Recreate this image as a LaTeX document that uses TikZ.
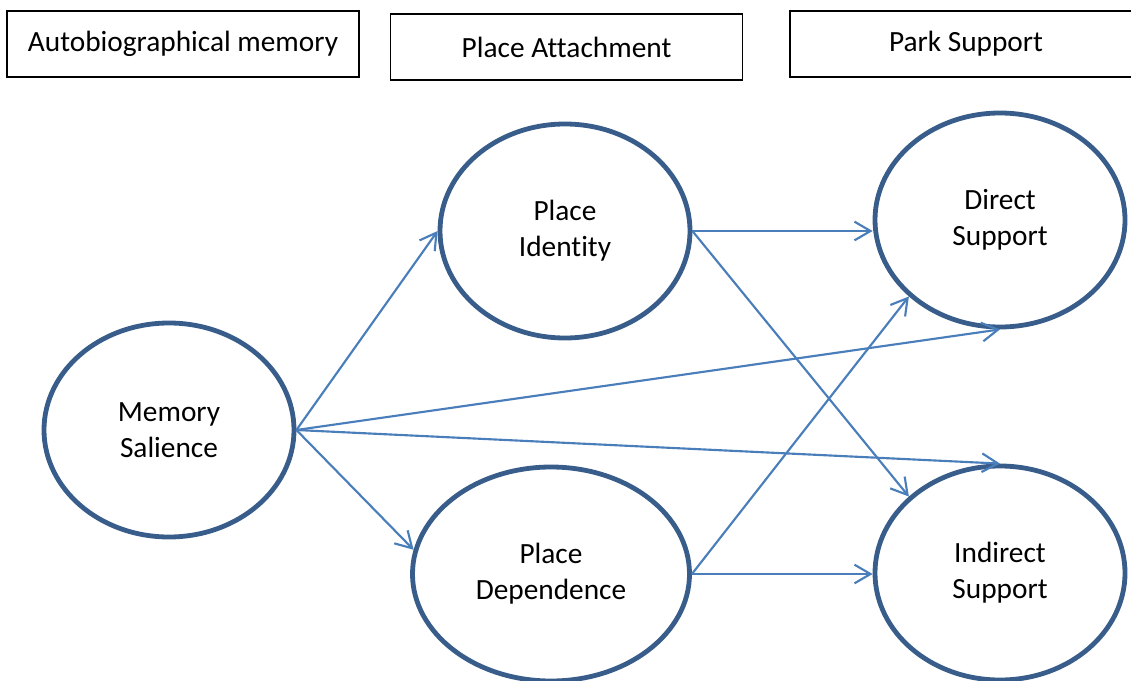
\documentclass[tikz,border=0pt]{standalone}
\usepackage{fontspec}
\setmainfont{Carlito}[Ligatures=NoCommon]
\usepackage{tikz}
\usetikzlibrary{shapes.geometric,arrows.meta}
\definecolor{shapeline}{HTML}{385D8A}
\definecolor{arrowblue}{HTML}{4A7EBB}
\tikzstyle{heading}=[draw, line width=1.2pt, minimum width=264pt,
	minimum height=49.5pt, inner sep=0pt, font=\fontsize{22}{27}\selectfont]
\tikzstyle{construct} = [ellipse, draw=shapeline, line width=3.6pt, fill=white,
	minimum width=187.5pt, minimum height=160.5pt, inner sep=0pt,
	align=center, font=\fontsize{22}{27}\selectfont]
\tikzstyle{wide} = [construct, minimum width=207.75pt]
\tikzstyle{line} = [draw, line width=1.6pt, color=arrowblue,
	-{Straight Barb[length=12pt, width=14pt, line width=1.6pt]}]
\newcommand{\construct}[3]{node (c#1) [#2]
	{#3}}

\begin{document}
\begin{tikzpicture}[x=0.75pt, y=-0.75pt]
	\clip (0,0) rectangle (1131,681);
	\useasboundingbox (0,0) rectangle (1131,681);

	% Column headings
	\path (183,44) node (h1)[heading]{Autobiographical memory};
	\path (566.5,47) node (h2)[heading]{Place Attachment};
	\path (966,44) node (h3)[heading]{Park Support};

	\path (169,430) \construct{1}{construct}{Memory\\ Salience};
	\path (c1)+(396,-199) \construct{2}{construct}{Place\\ Identity};
	\path (c1)+(382, 144) \construct{3}{wide}{Place\\ Dependence};
	\path (c2)+(435, -11) \construct{4}{construct}{Direct\\ Support};
	\path (c3)+(449,  -1) \construct{5}{construct}{Indirect\\ Support};

	% Draw arrows between elements
	\path [line] (c1.east) -- (c2.west);
	\path [line] (c1.east) -- (c3.170);
	\path [line] (c1.east) -- (c4.south);
	\path [line] (c1.east) -- (c5.north);

	\path [line] (c2.east) -- (c2.east -| c4.west);
	\path [line] (c2.east) -- (c5.140);

	\path [line] (c3.east) -- (c4.220);
	\path [line] (c3.east) -- (c3.east -| c5.west);

\end{tikzpicture}
\end{document}
